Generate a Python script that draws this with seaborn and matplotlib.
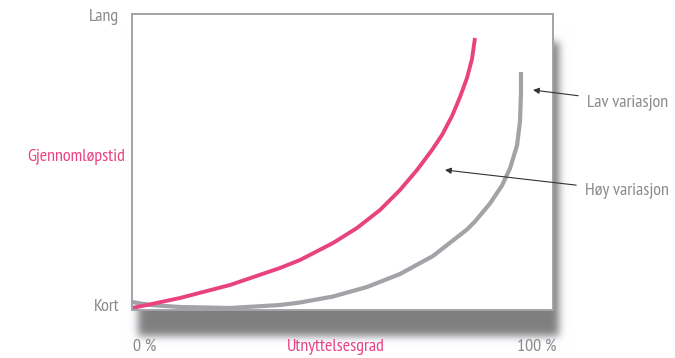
import numpy as np
import pandas as pd
import matplotlib
matplotlib.use("Agg")
import matplotlib.pyplot as plt
import seaborn as sns

# Utilisation (%) vs. lead time (0 = short, 100 = long)
high_var_x = [-3.32, 0.51, 8.93, 21.68, 34.44, 39.54, 47.96, 54.08, 59.95,
              65.05, 69.39, 73.21, 75.77, 78.32, 80.36, 82.14, 83.42, 84.18]
high_var_y = [0.0, 1.03, 3.44, 7.90, 13.75, 16.49, 22.34, 27.49, 33.68,
              40.55, 47.42, 54.30, 59.45, 65.98, 72.51, 79.04, 85.57, 92.78]
low_var_x = [-3.32, 1.28, 8.93, 21.68, 34.44, 39.54, 47.96, 56.63, 65.05,
             73.47, 82.14, 84.18, 88.01, 91.07, 93.11, 94.90, 95.66, 95.92, 95.92]
low_var_y = [2.06, 1.03, 0.34, 0.0, 1.03, 1.89, 3.95, 7.22, 11.68,
             17.87, 26.98, 29.73, 35.91, 42.10, 47.94, 55.84, 64.09, 73.88, 81.10]

x_tick_labels = ["0 %", "100 %"]
y_tick_labels = ["Kort", "Lang"]
x_title = "Utnyttelsesgrad"
y_title = "Gjennomløpstid"
series_labels = ["Høy variasjon", "Lav variasjon"]

PINK = "#e8437f"
GRAY = "#a2a2a7"
TEXT_GRAY = "#8a8a8a"

sns.set_style("white")
plt.rcParams["font.family"] = ["PT Sans Narrow", "Roboto Condensed", "Archivo Narrow",
                               "Barlow Condensed", "DejaVu Sans"]

W, H = 675, 358
fig = plt.figure(figsize=(W / 100, H / 100), dpi=100)

# frame box in pixels
L, R, T, B = 132, 553, 14, 310

# soft drop shadow behind the frame
yy, xx = np.mgrid[0:H, 0:W]
mask = ((xx >= L + 6) & (xx <= R + 5) & (yy >= T + 8) & (yy <= B + 5)).astype(float)
k = np.exp(-0.5 * (np.arange(-15, 16) / 4.0) ** 2)
k /= k.sum()
mask = np.apply_along_axis(lambda r: np.convolve(r, k, mode="same"), 1, mask)
mask = np.apply_along_axis(lambda c: np.convolve(c, k, mode="same"), 0, mask)
shade = 1 - 0.5 * mask
rgb = np.dstack([shade, shade, shade * 1.01]).clip(0, 1)
fig.figimage(rgb[::-1], xo=0, yo=0, zorder=0)

ax = fig.add_axes([L / W, 1 - B / H, (R - L) / W, (B - T) / H])
ax.set_zorder(1)
ax.set_facecolor("white")

# data coordinates: x=0 at px 145, x=100 at px 537; y=0 at px 308, y=100 at px 17
x0p, x1p = 145, 537
y0p, y1p = 308, 17
sx = (x1p - x0p) / 100
sy = (y0p - y1p) / 100
ax.set_xlim((L - x0p) / sx, (R - x0p) / sx)
ax.set_ylim((y0p - B) / sy, (y0p - T) / sy)

df_high = pd.DataFrame({"x": high_var_x, "y": high_var_y})
df_low = pd.DataFrame({"x": low_var_x, "y": low_var_y})
sns.lineplot(data=df_low, x="x", y="y", ax=ax, color=GRAY, lw=3.0,
             sort=False, estimator=None, solid_joinstyle="round",
             solid_capstyle="butt")
sns.lineplot(data=df_high, x="x", y="y", ax=ax, color=PINK, lw=2.8,
             sort=False, estimator=None, solid_joinstyle="round",
             solid_capstyle="butt")

ax.set_xticks([])
ax.set_yticks([])
ax.set_xlabel("")
ax.set_ylabel("")
for s in ax.spines.values():
    s.set_color("#a4a4a8")
    s.set_linewidth(1.4)

fs = 13

# y-axis labels
fig.text(119 / W, 1 - 17 / H, y_tick_labels[1], ha="right", va="center",
         color=TEXT_GRAY, fontsize=fs)
fig.text(120 / W, 1 - 307 / H, y_tick_labels[0], ha="right", va="center",
         color=TEXT_GRAY, fontsize=fs)
fig.text(76 / W, 1 - 157 / H, y_title, ha="center", va="center",
         color=PINK, fontsize=fs)

# x-axis labels
fig.text(x0p / W, 1 - 347 / H, x_tick_labels[0], ha="center", va="center",
         color=TEXT_GRAY, fontsize=fs)
fig.text(x1p / W, 1 - 347 / H, x_tick_labels[1], ha="center", va="center",
         color=TEXT_GRAY, fontsize=fs)
fig.text(336 / W, 1 - 347 / H, x_title, ha="center", va="center",
         color=PINK, fontsize=fs)

# callouts
def px2data(px, py):
    return ((px - x0p) / sx, (y0p - py) / sy)

arrow = dict(arrowstyle="-|>", color="#333333", lw=0.8,
             mutation_scale=9, shrinkA=4, shrinkB=0)
ax.annotate(series_labels[1], xy=px2data(533, 90), xytext=px2data(587, 102),
            textcoords="data", ha="left", va="center", color=TEXT_GRAY,
            fontsize=fs, annotation_clip=False, arrowprops=arrow)
ax.annotate(series_labels[0], xy=px2data(445, 170), xytext=px2data(585, 191),
            textcoords="data", ha="left", va="center", color=TEXT_GRAY,
            fontsize=fs, annotation_clip=False, arrowprops=arrow)

fig.savefig("out.png", dpi=100)
